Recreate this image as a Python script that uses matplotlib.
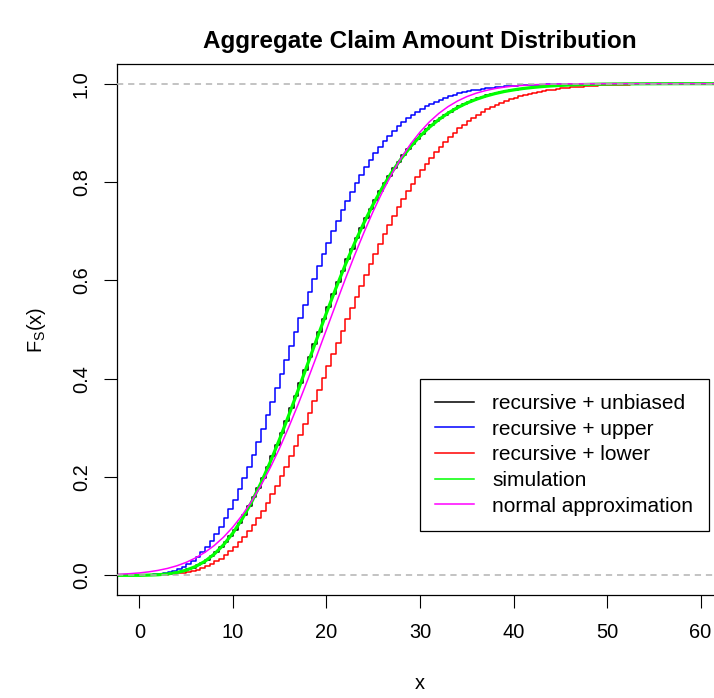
import numpy as np
import matplotlib
matplotlib.use('Agg')
import matplotlib.pyplot as plt
from matplotlib.lines import Line2D

plt.rcParams['font.family'] = ['Liberation Sans', 'DejaVu Sans']
plt.rcParams['mathtext.fontset'] = 'custom'
plt.rcParams['mathtext.rm'] = 'Liberation Sans'
plt.rcParams['lines.scale_dashes'] = False

# ==============================================================================
#                                   DATA
# ==============================================================================

step = 0.5  # discretization step of the severity

# recursive method, unbiased discretization (F_S at 0, 0.5, 1, ...)
cdf_unbiased = [
    0.0002, 0.0004, 0.0006, 0.0010, 0.0015, 0.0023, 0.0034, 0.0048, 0.0067, 0.0091,
    0.0120, 0.0157, 0.0201, 0.0254, 0.0317, 0.0390, 0.0474, 0.0568, 0.0676, 0.0796,
    0.0928, 0.1073, 0.1231, 0.1401, 0.1584, 0.1778, 0.1984, 0.2198, 0.2423, 0.2657,
    0.2898, 0.3146, 0.3398, 0.3654, 0.3913, 0.4174, 0.4435, 0.4697, 0.4956, 0.5211,
    0.5466, 0.5714, 0.5956, 0.6194, 0.6424, 0.6646, 0.6862, 0.7068, 0.7268, 0.7458,
    0.7640, 0.7812, 0.7976, 0.8131, 0.8277, 0.8413, 0.8543, 0.8664, 0.8777, 0.8882,
    0.8980, 0.9071, 0.9155, 0.9233, 0.9304, 0.9370, 0.9431, 0.9487, 0.9537, 0.9584,
    0.9626, 0.9664, 0.9699, 0.9731, 0.9760, 0.9786, 0.9809, 0.9830, 0.9849, 0.9866,
    0.9881, 0.9895, 0.9907, 0.9918, 0.9927, 0.9936, 0.9944, 0.9951, 0.9957, 0.9962,
    0.9967, 0.9971, 0.9975, 0.9978, 0.9981, 0.9984, 0.9986, 0.9988, 0.9990, 0.9991,
    0.9992]

# recursive method, upper discretization
cdf_upper = [
    0.0004, 0.0007, 0.0012, 0.0020, 0.0031, 0.0047, 0.0068, 0.0096, 0.0132, 0.0177,
    0.0232, 0.0299, 0.0378, 0.0471, 0.0578, 0.0699, 0.0836, 0.0989, 0.1156, 0.1339,
    0.1536, 0.1749, 0.1972, 0.2209, 0.2457, 0.2716, 0.2981, 0.3253, 0.3531, 0.3813,
    0.4098, 0.4381, 0.4665, 0.4948, 0.5227, 0.5501, 0.5769, 0.6030, 0.6285, 0.6532,
    0.6768, 0.6995, 0.7214, 0.7422, 0.7618, 0.7805, 0.7982, 0.8146, 0.8302, 0.8449,
    0.8585, 0.8712, 0.8830, 0.8938, 0.9039, 0.9131, 0.9216, 0.9294, 0.9366, 0.9431,
    0.9490, 0.9544, 0.9592, 0.9637, 0.9677, 0.9713, 0.9745, 0.9774, 0.9800, 0.9824,
    0.9844, 0.9863, 0.9879, 0.9894, 0.9907, 0.9919, 0.9929, 0.9938, 0.9946, 0.9953,
    0.9959, 0.9964, 0.9969, 0.9973, 0.9977, 0.9980, 0.9983, 0.9985, 0.9987, 0.9989,
    0.9990, 0.9992, 0.9993, 0.9994, 0.9995, 0.9996, 0.9996, 0.9997, 0.9997, 0.9998,
    0.9998]

# recursive method, lower discretization
cdf_lower = [
    0.0001, 0.0002, 0.0004, 0.0006, 0.0009, 0.0014, 0.0020, 0.0028, 0.0039, 0.0053,
    0.0070, 0.0091, 0.0117, 0.0149, 0.0186, 0.0231, 0.0283, 0.0342, 0.0411, 0.0489,
    0.0576, 0.0673, 0.0780, 0.0898, 0.1027, 0.1166, 0.1316, 0.1476, 0.1645, 0.1825,
    0.2014, 0.2212, 0.2417, 0.2631, 0.2850, 0.3075, 0.3303, 0.3538, 0.3775, 0.4013,
    0.4254, 0.4495, 0.4733, 0.4972, 0.5207, 0.5442, 0.5671, 0.5894, 0.6114, 0.6331,
    0.6540, 0.6743, 0.6939, 0.7126, 0.7310, 0.7484, 0.7651, 0.7811, 0.7962, 0.8108,
    0.8244, 0.8374, 0.8497, 0.8613, 0.8720, 0.8822, 0.8917, 0.9006, 0.9089, 0.9166,
    0.9238, 0.9304, 0.9366, 0.9423, 0.9476, 0.9524, 0.9568, 0.9609, 0.9646, 0.9681,
    0.9712, 0.9740, 0.9767, 0.9790, 0.9812, 0.9831, 0.9849, 0.9865, 0.9879, 0.9892,
    0.9904, 0.9914, 0.9924, 0.9932, 0.9940, 0.9947, 0.9953, 0.9958, 0.9963, 0.9967,
    0.9971, 0.9975, 0.9978, 0.9980, 0.9983, 0.9985, 0.9987, 0.9988, 0.9990, 0.9991,
    0.9992]

# simulation (empirical cdf)
sim_x = [-3] + list(range(0, 51)) + [52, 54, 56, 58, 63]
sim_cdf = [
    0.0,
    0.0, 0.0005, 0.0012, 0.0028, 0.0057, 0.0105, 0.0179, 0.0285, 0.0432, 0.0622,
    0.0862, 0.1152, 0.1492, 0.1881, 0.2310, 0.2777, 0.3272, 0.3783, 0.4304, 0.4826,
    0.5338, 0.5835, 0.6309, 0.6754, 0.7168, 0.7549, 0.7894, 0.8204, 0.8478, 0.8720,
    0.8931, 0.9113, 0.9268, 0.9400, 0.9512, 0.9605, 0.9681, 0.9745, 0.9797, 0.9840,
    0.9873, 0.9901, 0.9922, 0.9940, 0.9954, 0.9964, 0.9973, 0.9980, 0.9985, 0.9989,
    0.9992,
    0.9996, 0.9998, 0.9999, 1.0, 1.0]

# normal approximation
norm_x = list(range(-3, 49)) + [50, 55, 63]
norm_cdf = [
    0.0015, 0.0023, 0.0034,
    0.0049, 0.0071, 0.0101, 0.0141, 0.0194, 0.0264, 0.0354, 0.0467, 0.0607, 0.0778,
    0.0984, 0.1226, 0.1508, 0.1831, 0.2193, 0.2593, 0.3029, 0.3493, 0.3981, 0.4487,
    0.5000, 0.5513, 0.6019, 0.6507, 0.6971, 0.7407, 0.7807, 0.8169, 0.8492, 0.8774,
    0.9016, 0.9222, 0.9393, 0.9533, 0.9646, 0.9736, 0.9806, 0.9859, 0.9899, 0.9929,
    0.9951, 0.9966, 0.9977, 0.9985, 0.9990, 0.9994, 0.9996, 0.9997, 0.9998,
    1.0, 1.0, 1.0]

labels = ['recursive + unbiased', 'recursive + upper', 'recursive + lower',
          'simulation', 'normal approximation']
colors = ['black', '#0000FF', '#FF0000', '#00FF00', '#FF00FF']

XLIM = (-2.4, 62.4)
YLIM = (-0.04, 1.04)

# ==============================================================================
#                                   PLOT
# ==============================================================================

def draw_cdf(ax, values, color, lw=1.1):
    x = step * np.arange(len(values))
    xs = np.concatenate([[XLIM[0]], x, [XLIM[1]]])
    ys = np.concatenate([[0.0], values, [values[-1]]])
    ax.step(xs, ys, where='post', color=color, lw=lw)


fig = plt.figure(figsize=(7.14, 6.98), dpi=100)
ax = fig.add_axes([117 / 714, 1 - 595 / 698, (723 - 117) / 714, (595 - 64) / 698])

draw_cdf(ax, cdf_unbiased, colors[0])
draw_cdf(ax, cdf_upper, colors[1])
draw_cdf(ax, cdf_lower, colors[2])
ax.plot(sim_x, sim_cdf, color=colors[3], lw=2.3)
ax.plot(norm_x, norm_cdf, color=colors[4], lw=1.1)

for h in (0, 1):
    ax.axhline(h, color='#B3B3B3', lw=1.1, ls=(0, (4.5, 3.5)), zorder=5)

ax.set_xlim(*XLIM)
ax.set_ylim(*YLIM)
ax.set_xticks(np.arange(0, 61, 10))
ax.set_yticks(np.arange(0, 1.01, 0.2))
ax.set_yticklabels(['%.1f' % v for v in np.arange(0, 1.01, 0.2)],
                   rotation=90, va='center')
ax.tick_params(axis='both', direction='out', length=9.4, width=0.8,
               labelsize=14.4, color='black')
ax.tick_params(axis='x', pad=11)
ax.tick_params(axis='y', pad=9.5)
for sp in ax.spines.values():
    sp.set_linewidth(0.9)

fig.text(420 / 714, 1 - 48 / 698, 'Aggregate Claim Amount Distribution',
         ha='center', va='baseline', fontsize=17.5, fontweight='bold')
fig.text(420 / 714, 1 - 689 / 698, 'x', ha='center', va='baseline', fontsize=14.4)
fig.text(37 / 714, 1 - 330 / 698, r'$\mathregular{F_S(x)}$', rotation=90,
         ha='center', va='center', fontsize=14.4)

handles = [Line2D([], [], color=c, lw=1.1) for c in colors]
leg = ax.legend(handles, labels, loc='upper left',
                bbox_to_anchor=(420 / 714, 1 - 379 / 698),
                bbox_transform=fig.transFigure, borderaxespad=0,
                fontsize=15, frameon=True, fancybox=False,
                handlelength=1.86, handletextpad=0.9, borderpad=0.72,
                labelspacing=0.32)
leg.get_frame().set_edgecolor('black')
leg.get_frame().set_linewidth(0.9)
leg.get_frame().set_alpha(1)

plt.savefig('out.png', dpi=100)
